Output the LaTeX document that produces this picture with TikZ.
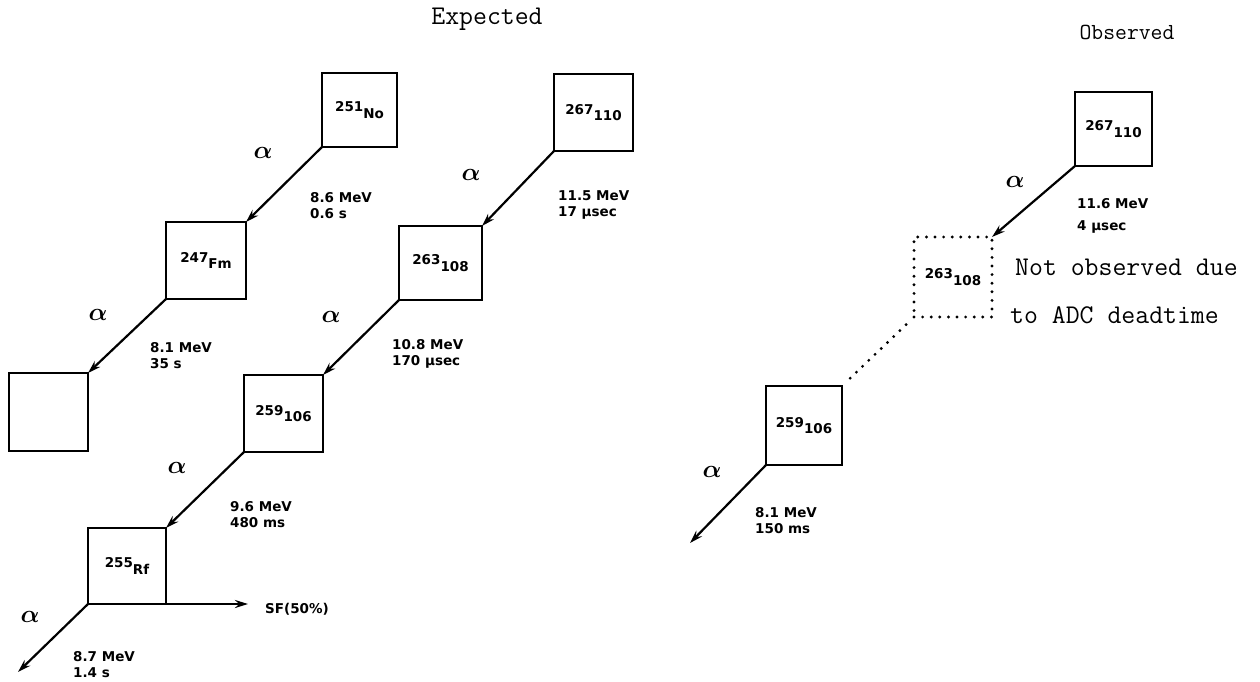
\documentclass[tikz,border=0pt]{standalone}
\usepackage{fontspec}
\usetikzlibrary{arrows.meta}
\newfontfamily\lblfont{DejaVu Sans}
\newcommand\nuclab[2]{#1\raisebox{-6.5pt}{#2}}
\tikzset{
  nbox/.style={draw, line width=2.4pt, inner sep=0pt, outer sep=0pt,
    font=\lblfont\bfseries\fontsize{13.5}{13.5}\selectfont},
  dotbox/.style={nbox, line width=3.2pt, dash pattern=on 0pt off 8.6pt, line cap=round},
  decay/.style={line width=2.2pt, -{Stealth[length=13pt,width=8pt]}},
  dotline/.style={line width=3.2pt, dash pattern=on 0pt off 8.6pt, line cap=round},
  elab/.style={anchor=north west, align=left, inner sep=0pt,
    font=\lblfont\bfseries\fontsize{13.5}{16}\selectfont},
  alab/.style={inner sep=0pt, font=\fontsize{24}{24}\selectfont\boldmath},
  ttl/.style={anchor=base, inner sep=0pt, font=\ttfamily\fontsize{27}{27}\selectfont},
  note/.style={anchor=base west, inner sep=0pt, font=\ttfamily\fontsize{27}{27}\selectfont}
}
\begin{document}
\begin{tikzpicture}[x=1pt,y=-1pt]
\useasboundingbox (0,0) rectangle (1260,682);

% titles
\node[ttl] (hexp) at (487,25) {Expected};
\node[ttl, font=\ttfamily\fontsize{23}{23}\selectfont] (hobs) at (1127,40) {Observed};

% ---------- expected: left chain ----------
\node[nbox, minimum width=75pt, minimum height=74pt] (no) at (359.5,110) {\nuclab{251}{No}};
\node[nbox, minimum width=80pt, minimum height=77pt] (fm) at (206,260.5) {\nuclab{247}{Fm}};
\node[nbox, minimum width=79pt, minimum height=78pt] (emp) at (48.5,412) {};

% ---------- expected: middle chain ----------
\node[nbox, minimum width=79pt, minimum height=77pt] (m110) at (593.5,112.5) {\nuclab{267}{110}};
\node[nbox, minimum width=83pt, minimum height=74pt] (m108) at (440.5,263) {\nuclab{263}{108}};
\node[nbox, minimum width=79pt, minimum height=77pt] (m106) at (283.5,413.5) {\nuclab{259}{106}};
\node[nbox, minimum width=78pt, minimum height=76pt] (rf) at (127,566) {\nuclab{255}{Rf}};
\coordinate (endA) at (18,672);
\coordinate (sfend) at (248,604);

% ---------- observed ----------
\node[nbox, minimum width=77pt, minimum height=74pt] (r110) at (1113.5,129) {\nuclab{267}{110}};
\node[dotbox, minimum width=78pt, minimum height=80pt] (r108) at (953,277) {\nuclab{263}{108}};
\node[nbox, minimum width=76pt, minimum height=79pt] (r106) at (804,425.5) {\nuclab{259}{106}};
\coordinate (endB) at (690,543);

% connectors
\draw[decay] (no.south west) -- (fm.north east);
\draw[decay] (fm.south west) -- (emp.north east);
\draw[decay] (m110.south west) -- (m108.north east);
\draw[decay] (m108.south west) -- (m106.north east);
\draw[decay] (m106.south west) -- (rf.north east);
\draw[decay] (rf.south west) -- (endA);
\draw[decay] (rf.south east) -- (sfend);
\draw[decay] (r110.south west) -- (r108.north east);
\draw[dotline, shorten <=11pt, shorten >=9pt] (r108.south west) -- (r106.north east);
\draw[decay] (r106.south west) -- (endB);

% alpha labels
\node[alab] (a1) at (263,153) {$\alpha$};
\node[alab] (a2) at (98,315) {$\alpha$};
\node[alab] (a3) at (471,175) {$\alpha$};
\node[alab] (a4) at (331,317) {$\alpha$};
\node[alab] (a5) at (177,468) {$\alpha$};
\node[alab] (a6) at (30,617) {$\alpha$};
\node[alab] (a7) at (1015,182) {$\alpha$};
\node[alab] (a8) at (712,472) {$\alpha$};

% energy / lifetime labels
\node[elab] (e1) at (310,192) {8.6 MeV\\0.6 s};
\node[elab] (e2) at (150,342) {8.1 MeV\\35 s};
\node[elab] (e3) at (558,190) {11.5 MeV\\17 μsec};
\node[elab] (e4) at (392,339) {10.8 MeV\\170 μsec};
\node[elab] (e5) at (230,501) {9.6 MeV\\480 ms};
\node[elab] (e6) at (73,651) {8.7 MeV\\1.4 s};
\node[elab, font=\lblfont\bfseries\fontsize{13.5}{22}\selectfont] (e7) at (1077,198) {11.6 MeV\\4 μsec};
\node[elab] (e8) at (755,507) {8.1 MeV\\150 ms};
\node[anchor=west, inner sep=0pt, font=\lblfont\bfseries\fontsize{13.5}{13.5}\selectfont] (sf) at (265,609) {SF(50\%)};

% note
\node[note] (n1) at (1015,275) {Not observed due};
\node[note] (n2) at (1010,323) {to ADC deadtime};
\end{tikzpicture}
\end{document}
